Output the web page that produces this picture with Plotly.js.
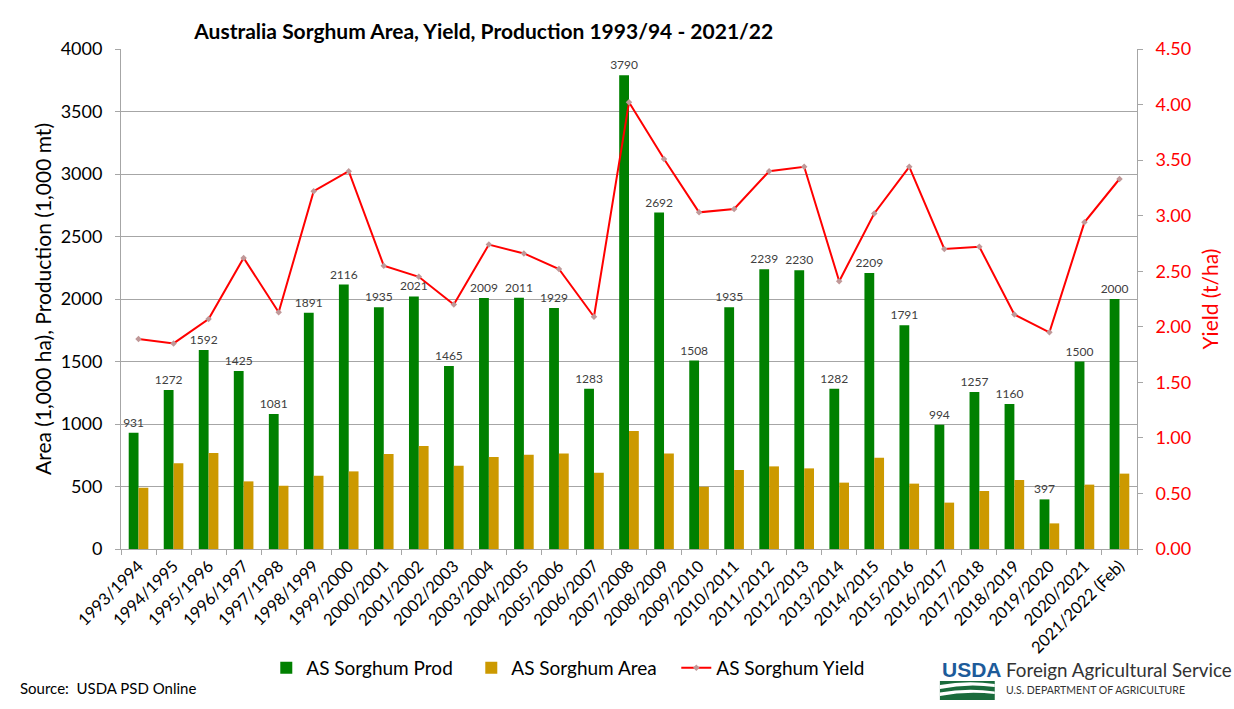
<!DOCTYPE html>
<html>
<head>
<meta charset="utf-8">
<script src="https://cdn.plot.ly/plotly-3.0.1.min.js"></script>
<style>
  body { margin: 0; background: #fff; }
  #plot { width: 1234px; height: 709px; }
</style>
</head>
<body>
<div id="plot"></div>
<script>
var years = ['1993/1994', '1994/1995', '1995/1996', '1996/1997', '1997/1998', '1998/1999',
  '1999/2000', '2000/2001', '2001/2002', '2002/2003', '2003/2004', '2004/2005', '2005/2006',
  '2006/2007', '2007/2008', '2008/2009', '2009/2010', '2010/2011', '2011/2012', '2012/2013',
  '2013/2014', '2014/2015', '2015/2016', '2016/2017', '2017/2018', '2018/2019', '2019/2020',
  '2020/2021', '2021/2022 (Feb)'];

var production = [931, 1272, 1592, 1425, 1081, 1891, 2116, 1935, 2021, 1465, 2009, 2011, 1929,
  1283, 3790, 2692, 1508, 1935, 2239, 2230, 1282, 2209, 1791, 994, 1257, 1160, 397, 1500, 2000];

var area = [490, 686, 768, 541, 506, 586, 621, 760, 824, 666, 736, 754, 765, 610, 944, 765, 498,
  632, 661, 645, 531, 731, 523, 371, 464, 552, 205, 515, 603];

var yieldTha = [1.89, 1.85, 2.07, 2.62, 2.13, 3.22, 3.40, 2.55, 2.45, 2.20, 2.74, 2.66, 2.52, 2.09,
  4.02, 3.51, 3.03, 3.06, 3.40, 3.44, 2.41, 3.02, 3.44, 2.70, 2.72, 2.11, 1.95, 2.94, 3.33];

var font = 'Lato, "Liberation Sans", sans-serif';

var prod = {
  x: years, y: production, type: 'bar', name: 'AS Sorghum Prod',
  marker: { color: '#008000' },
  text: production.map(String), textposition: 'outside', cliponaxis: false,
  constraintext: 'none',
  textfont: { size: 12, color: '#404040', family: font }
};

var ar = {
  x: years, y: area, type: 'bar', name: 'AS Sorghum Area',
  marker: { color: '#cc9900' }
};

var yld = {
  x: years, y: yieldTha, type: 'scatter', mode: 'lines+markers', name: 'AS Sorghum Yield',
  yaxis: 'y2',
  line: { color: '#ff0000', width: 2 },
  marker: { symbol: 'diamond', size: 5, color: '#c09898' }
};

var layout = {
  width: 1234, height: 709,
  margin: { l: 121, r: 97, t: 49, b: 160 },
  paper_bgcolor: '#fff', plot_bgcolor: '#fff',
  font: { family: font, color: '#000' },
  barmode: 'group', bargap: 0.44, bargroupgap: 0,
  title: {
    text: '<b>Australia Sorghum Area, Yield, Production 1993/94 - 2021/22</b>',
    font: { size: 21, color: '#000' },
    x: 0.392, xanchor: 'center', y: 0.956, yanchor: 'middle'
  },
  xaxis: {
    range: [-0.5, 28.5], tickangle: -45, tickfont: { size: 16.5 }, tickson: 'boundaries',
    showline: true, linecolor: '#a6a6a6', ticks: 'outside', tickcolor: '#a6a6a6', ticklen: 5,
    showgrid: false
  },
  yaxis: {
    range: [0, 4000], dtick: 500, tickfont: { size: 18 }, ticklabelstandoff: 9,
    title: { text: 'Area (1,000 ha), Production (1,000 mt)', font: { size: 21 }, standoff: 3 },
    showline: true, linecolor: '#a6a6a6', ticks: 'outside', tickcolor: '#a6a6a6', ticklen: 5,
    gridcolor: '#a6a6a6', zeroline: false
  },
  yaxis2: {
    overlaying: 'y', side: 'right', range: [0, 4.5], dtick: 0.5, tickformat: '.2f',
    tickfont: { size: 18, color: '#ff0000' }, ticklabelstandoff: 9,
    title: { text: 'Yield (t/ha)', font: { size: 21, color: '#ff0000' }, standoff: 13 },
    showline: true, linecolor: '#a6a6a6', ticks: 'outside', tickcolor: '#a6a6a6', ticklen: 5,
    showgrid: false, zeroline: false
  },
  legend: {
    orientation: 'h', x: 0.143, xanchor: 'left', y: -0.238, yanchor: 'middle',
    font: { size: 19 }, itemwidth: 30, traceorder: 'normal',
    entrywidth: 160, entrywidthmode: 'pixels'
  },
  annotations: [
    { text: 'Source:  USDA PSD Online', xref: 'paper', yref: 'paper', x: -0.1014, y: -0.278,
      xanchor: 'left', yanchor: 'middle', showarrow: false, font: { size: 15 } },
    { text: '<b>USDA</b>', xref: 'paper', yref: 'paper', x: 0.806, y: -0.24,
      xanchor: 'left', yanchor: 'middle', showarrow: false,
      font: { size: 21, color: '#1d5b9a', family: '"Liberation Sans Narrow", "Liberation Sans", sans-serif' } },
    { text: 'Foreign Agricultural Service', xref: 'paper', yref: 'paper', x: 0.869, y: -0.24,
      xanchor: 'left', yanchor: 'middle', showarrow: false, font: { size: 18.8, color: '#333' } },
    { text: 'U.S. DEPARTMENT OF AGRICULTURE', xref: 'paper', yref: 'paper', x: 0.869, y: -0.282,
      xanchor: 'left', yanchor: 'middle', showarrow: false, font: { size: 10.5, color: '#333' } }
  ],
  shapes: [
    { type: 'rect', xref: 'paper', yref: 'paper', x0: 0.806, x1: 0.860, y0: -0.302, y1: -0.264,
      fillcolor: '#1a6b3c', line: { width: 0 } },
    { type: 'path', xref: 'paper', yref: 'paper',
      path: 'M 0.806 -0.272 Q 0.833 -0.262 0.860 -0.27 L 0.860 -0.276 Q 0.833 -0.268 0.806 -0.28 Z',
      fillcolor: '#fff', line: { width: 0 } },
    { type: 'path', xref: 'paper', yref: 'paper',
      path: 'M 0.806 -0.287 Q 0.833 -0.277 0.860 -0.285 L 0.860 -0.29 Q 0.833 -0.283 0.806 -0.294 Z',
      fillcolor: '#fff', line: { width: 0 } }
  ]
};

Plotly.newPlot('plot', [prod, ar, yld], layout, { displayModeBar: false });
</script>
</body>
</html>
